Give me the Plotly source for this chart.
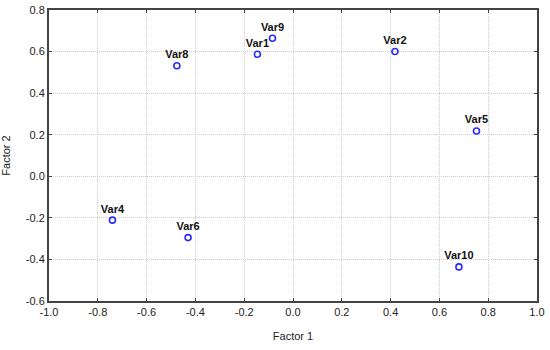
import plotly.graph_objects as go

labels = ["Var1", "Var2", "Var4", "Var5", "Var6", "Var8", "Var9", "Var10"]
factor1 = [-0.146, 0.418, -0.740, 0.752, -0.430, -0.476, -0.084, 0.680]
factor2 = [0.587, 0.600, -0.211, 0.218, -0.295, 0.532, 0.664, -0.436]

x_ticks = [-1.0, -0.8, -0.6, -0.4, -0.2, 0.0, 0.2, 0.4, 0.6, 0.8, 1.0]
y_ticks = [-0.6, -0.4, -0.2, 0.0, 0.2, 0.4, 0.6, 0.8]

fig = go.Figure(go.Scatter(
    x=factor1, y=factor2, mode="markers+text", text=labels,
    textposition="top center",
    textfont=dict(family="Liberation Sans, Arial", size=11, color="#111111", weight="bold"),
    marker=dict(symbol="circle-open", size=6, color="#2a2aff", line=dict(width=1.6, color="#2a2aff")),
    cliponaxis=False, showlegend=False, hoverinfo="skip",
))

font = dict(family="Liberation Sans, Arial", size=11, color="#222222")
axis_common = dict(
    showgrid=True, gridcolor="#cccccc", griddash="1px,1px", gridwidth=1,
    showline=True, linecolor="#444444", linewidth=2, mirror="ticks",
    ticks="inside", ticklen=3, tickcolor="#444444", tickwidth=1,
    zeroline=False, tickfont=font, automargin=False,
)

fig.update_xaxes(range=[-1.0, 1.0], tickvals=x_ticks,
                 ticktext=[f"{v:.1f}" for v in x_ticks],
                 title=dict(text="Factor 1", font=font),
                 **axis_common)
fig.update_yaxes(range=[-0.6, 0.8], tickvals=y_ticks,
                 ticktext=[f"{v:.1f}" for v in y_ticks],
                 title=dict(text="Factor 2", font=font),
                 **axis_common)

fig.update_layout(
    width=550, height=350,
    margin=dict(l=49, r=13, t=10, b=49, autoexpand=False),
    paper_bgcolor="white", plot_bgcolor="white",
)

fig.write_html("out.html", config={"displayModeBar": False},
               post_script="document.body.style.margin='0';")
